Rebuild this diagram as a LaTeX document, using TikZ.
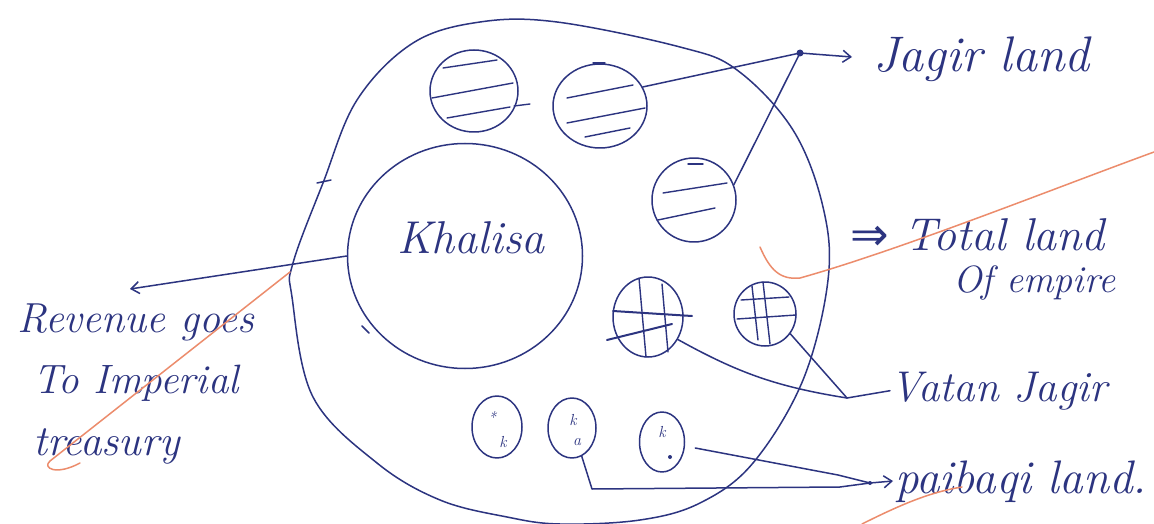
\documentclass[tikz,border=0pt]{standalone}
\usepackage{fontspec}
\newfontfamily\symfont{DejaVu Sans}
\usetikzlibrary{shapes.geometric,arrows.meta}
\definecolor{ink}{RGB}{44,52,128}
\definecolor{marker}{RGB}{236,140,108}
\begin{document}
\begin{tikzpicture}[x=1pt,y=-1pt,
  pen/.style={draw=ink,line width=1.5pt,line cap=round,line join=round},
  hatch/.style={draw=ink,line width=1.4pt,line cap=round},
  blob/.style={pen,ellipse,inner sep=0pt},
  hand/.style={text=ink,font=\fontsize{#1}{#1}\selectfont\itshape,inner sep=0pt},
  hand/.default=42,
  small/.style={text=ink,font=\fontsize{16}{16}\selectfont\itshape,inner sep=0pt},
  barb/.style={-{Straight Barb[length=8pt,width=12pt]}},
  hilite/.style={draw=marker,line width=1.5pt,line cap=round}]
\useasboundingbox (0,0) rectangle (1154,524);
\fill[white] (0,0) rectangle (1154,524);

% outer boundary (total land of empire)
\draw[pen] plot[smooth cycle,tension=0.6] coordinates {
  (557,22) (680,47) (737,70) (793,130) (823,207) (828,280) (803,380)
  (753,463) (700,503) (640,520) (560,524) (507,517) (440,500) (377,463)
  (313,397) (292,297) (293,263) (323,183) (357,100) (413,43) (480,22)};
\draw[pen] (317,183) -- (331,180);

% Khalisa
\node[blob,minimum width=235pt,minimum height=225pt] (khalisa) at (465,256) {};
\node[hand=46,anchor=base west] (khlabel) at (397,253) {Khalisa};
\draw[pen] (362,326) -- (369,333);

% Jagir circles
\node[blob,minimum width=88pt,minimum height=82pt] (j1) at (474,91) {};
\node[blob,minimum width=94pt,minimum height=84pt] (j2) at (600,106) {};
\node[blob,minimum width=84pt,minimum height=84pt] (j3) at (694,200) {};
\draw[hatch] (443,68) -- (497,60);
\draw[hatch] (432,98) -- (513,83);
\draw[hatch] (447,118) -- (510,107);
\draw[hatch] (514,106) -- (530,104);
\draw[hatch] (593,63) -- (605,63);
\draw[hatch] (567,98) -- (633,85);
\draw[hatch] (567,123) -- (645,108);
\draw[hatch] (585,137) -- (630,128);
\draw[hatch] (688,164) -- (703,164);
\draw[hatch] (663,193) -- (727,183);
\draw[hatch] (658,220) -- (715,208);

% Vatan Jagir circles
\node[blob,minimum width=70pt,minimum height=80pt] (v1) at (648,317) {};
\node[blob,minimum width=62pt,minimum height=64pt] (v2) at (765,314) {};
\draw[hatch,line width=2pt] (613,311) -- (692,316);
\draw[hatch,line width=2pt] (607,340) -- (672,324);
\draw[hatch] (639,278) -- (646,357);
\draw[hatch] (662,284) -- (668,352);
\draw[hatch] (741,300) -- (789,297);
\draw[hatch] (737,319) -- (796,315);
\draw[hatch] (752,286) -- (758,340);
\draw[hatch] (763,282) -- (770,344);

% Paibaqi ovals
\node[blob,minimum width=50pt,minimum height=62pt] (p1) at (497,427) {};
\node[blob,minimum width=48pt,minimum height=60pt] (p2) at (572,428) {};
\node[blob,minimum width=45pt,minimum height=60pt] (p3) at (662,442) {};
\node[small] (p1a) at (492,417) {*};
\node[small] (p1b) at (503,442) {k};
\node[small] (p2a) at (573,420) {k};
\node[small] (p2b) at (577,442) {a};
\node[small] (p3a) at (662,432) {k};
\fill[ink] (670,457) circle (2pt);

% labels
\node[hand=50,anchor=base west] (jagtext) at (873,72) {Jagir land};
\node[hand=46,anchor=base west] (totaltext) at (850,250) {{\symfont ⇒} Total land};
\node[hand=38,anchor=base west] (empire) at (953,292) {Of empire};
\node[hand=43,anchor=base west] (vatantext) at (890,401) {Vatan Jagir};
\node[hand=47,anchor=base west] (paitext) at (895,493) {paibaqi land.};
\node[hand=42,anchor=base west] (rev1) at (17,332) {Revenue goes};
\node[hand=41,anchor=base west] (rev2) at (33,393) {To Imperial};
\node[hand=43,anchor=base west] (rev3) at (33,455) {treasury};

% connectors
\coordinate (revtip) at (130,289);
\draw[pen,barb] (khalisa.west) -- (revtip);

\coordinate (jdot) at (800,53);
\coordinate (jtip) at (852,57);
\draw[pen] (j2.24) -- (jdot);
\draw[pen] (j3.21) -- (jdot);
\fill[ink] (jdot) circle (3.5pt);
\draw[pen,barb] (jdot) -- (jtip);

\coordinate (vj) at (847,398);
\draw[pen] (v1.-37) to[bend right=10] (vj);
\draw[pen] (v2.-38) -- (vj);
\draw[pen] (vj) -- (vatantext.west);

\coordinate (pj) at (870,483);
\coordinate (ptip) at (893,481);
\coordinate (pup) at (838,475);
\coordinate (plow) at (840,487);
\coordinate (pbend) at (592,489);
\draw[pen] ([xshift=10pt,yshift=-6pt]p3.east) -- (pup) -- (pj);
\draw[pen] (p2.-71) -- (pbend) -- (plow) -- (pj);
\fill[ink] (pj) circle (2pt);
\draw[pen,barb] (pj) -- (ptip);

% highlighter strokes
\draw[hilite] (290,272) -- (50,461) .. controls (42,468) and (56,476) .. (80,463);
\draw[hilite] (760,247) .. controls (770,270) and (780,280) .. (800,278)
  .. controls (900,250) and (1050,190) .. (1154,152);
\draw[hilite] (862,524) .. controls (900,505) and (930,492) .. (962,487);
\end{tikzpicture}
\end{document}
